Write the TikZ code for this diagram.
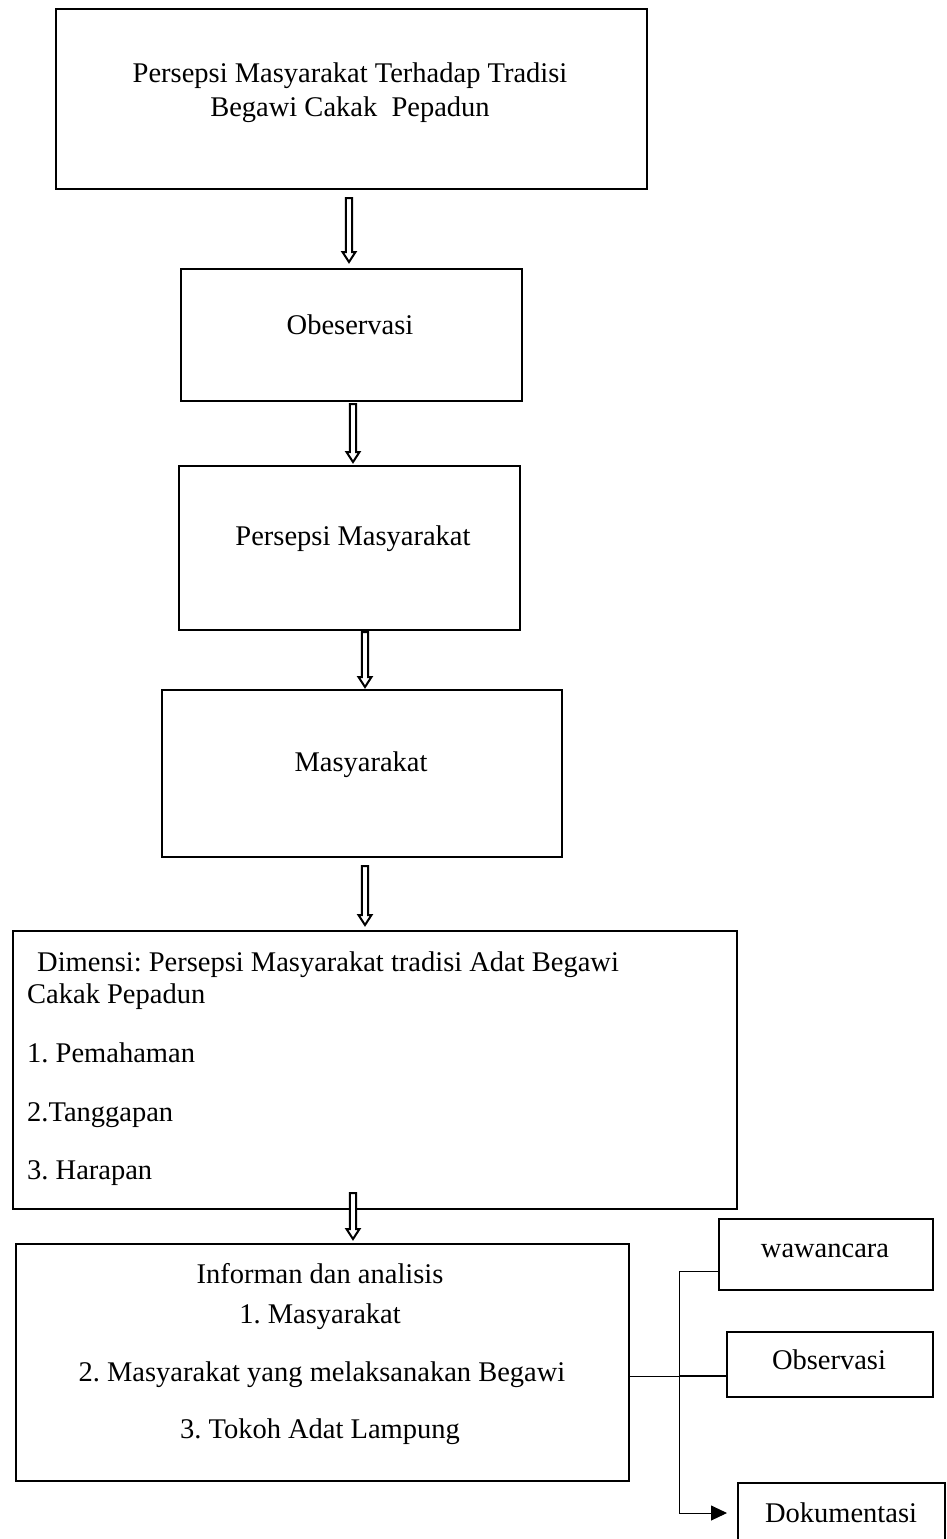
\documentclass[tikz,border=0pt]{standalone}
\usepackage{fontspec}
\setmainfont{Liberation Serif}
\usetikzlibrary{arrows.meta,calc}
\frenchspacing
\tikzset{
  box/.style={draw, line width=2.3pt, inner sep=0pt, anchor=north west},
  txt/.style={font=\fontsize{28.5}{32}\selectfont, inner sep=0pt, anchor=base},
  ltxt/.style={txt, anchor=base west},
  hollow/.style={draw, fill=white, line width=2pt, line join=miter},
  thin/.style={line width=1pt},
}
\newcommand{\hollowarrow}[4]{% name, x, ytop, ybottom
  \coordinate (#1s) at (#2,#3);
  \coordinate (#1e) at (#2,#4);
  \draw[hollow] ($(#1s)+(-3.2,0)$) -- ($(#1s)+(3.2,0)$) -- ($(#1e)+(3.2,-10)$) -- ($(#1e)+(6.5,-10)$) -- (#1e) -- ($(#1e)+(-6.5,-10)$) -- ($(#1e)+(-3.2,-10)$) -- cycle;
}
\begin{document}
\begin{tikzpicture}[x=1pt,y=-1pt]
\clip (0,0) rectangle (946,1539);
\fill[white] (0,0) rectangle (946,1539);

% boxes
\node[box, minimum width=591pt, minimum height=180pt] (b1) at (55,8) {};
\node[box, minimum width=341pt, minimum height=132pt] (b2) at (180,268) {};
\node[box, minimum width=341pt, minimum height=164pt] (b3) at (178,465) {};
\node[box, minimum width=400pt, minimum height=167pt] (b4) at (161,689) {};
\node[box, minimum width=724pt, minimum height=278pt] (b5) at (12,930) {};
\node[box, minimum width=613pt, minimum height=237pt] (b6) at (15,1243) {};
\node[box, minimum width=214pt, minimum height=71pt] (w) at (718,1218) {};
\node[box, minimum width=206pt, minimum height=65pt] (o) at (726,1331) {};
\node[box, minimum width=207pt, minimum height=80pt] (d) at (737,1482) {};

% texts
\node[txt] (t1a) at (350,82) {Persepsi Masyarakat Terhadap Tradisi};
\node[txt] (t1b) at (350,116) {Begawi Cakak\ \ Pepadun};
\node[txt] (t2) at (350,334) {Obeservasi};
\node[txt] (t3) at (353,545) {Persepsi Masyarakat};
\node[txt] (t4) at (361,771) {Masyarakat};
\node[ltxt] (t5a) at (37,971) {Dimensi: Persepsi Masyarakat tradisi Adat Begawi};
\node[ltxt] (t5b) at (27,1003) {Cakak Pepadun};
\node[ltxt] (t5c) at (27,1062) {1. Pemahaman};
\node[ltxt] (t5d) at (27,1121.5) {2.Tanggapan};
\node[ltxt] (t5e) at (27,1179) {3. Harapan};
\node[txt] (t6a) at (320,1283) {Informan dan analisis};
\node[txt] (t6b) at (320,1323) {1. Masyarakat};
\node[txt] (t6c) at (322,1381) {2. Masyarakat yang melaksanakan Begawi};
\node[txt] (t6d) at (320,1438) {3. Tokoh Adat Lampung};
\node[txt] (tw) at (825,1257) {wawancara};
\node[txt] (to) at (829,1369) {Observasi};
\node[txt] (td) at (841,1522) {Dokumentasi};

% hollow arrows
\hollowarrow{a1}{349}{198}{262}
\hollowarrow{a2}{353}{404}{462}
\hollowarrow{a3}{365}{632}{687}
\hollowarrow{a4}{365}{866}{925}
\hollowarrow{a5}{353}{1193}{1239}

% right connectors
\coordinate (j) at (679,1376);
\coordinate (jt) at (679,1271);
\coordinate (jb) at (679,1513);
\draw[thin] (b6.east |- j) -- (j);
\draw[line width=1.6pt] (j) -- (o.west |- j);
\draw[thin] (jt) -- (jb);
\draw[thin] (jt) -- (w.west |- jt);
\draw[thin, shorten >=10pt, -{Triangle[length=16pt,width=15pt]}] (jb) -- (d.west |- jb);
\end{tikzpicture}
\end{document}
